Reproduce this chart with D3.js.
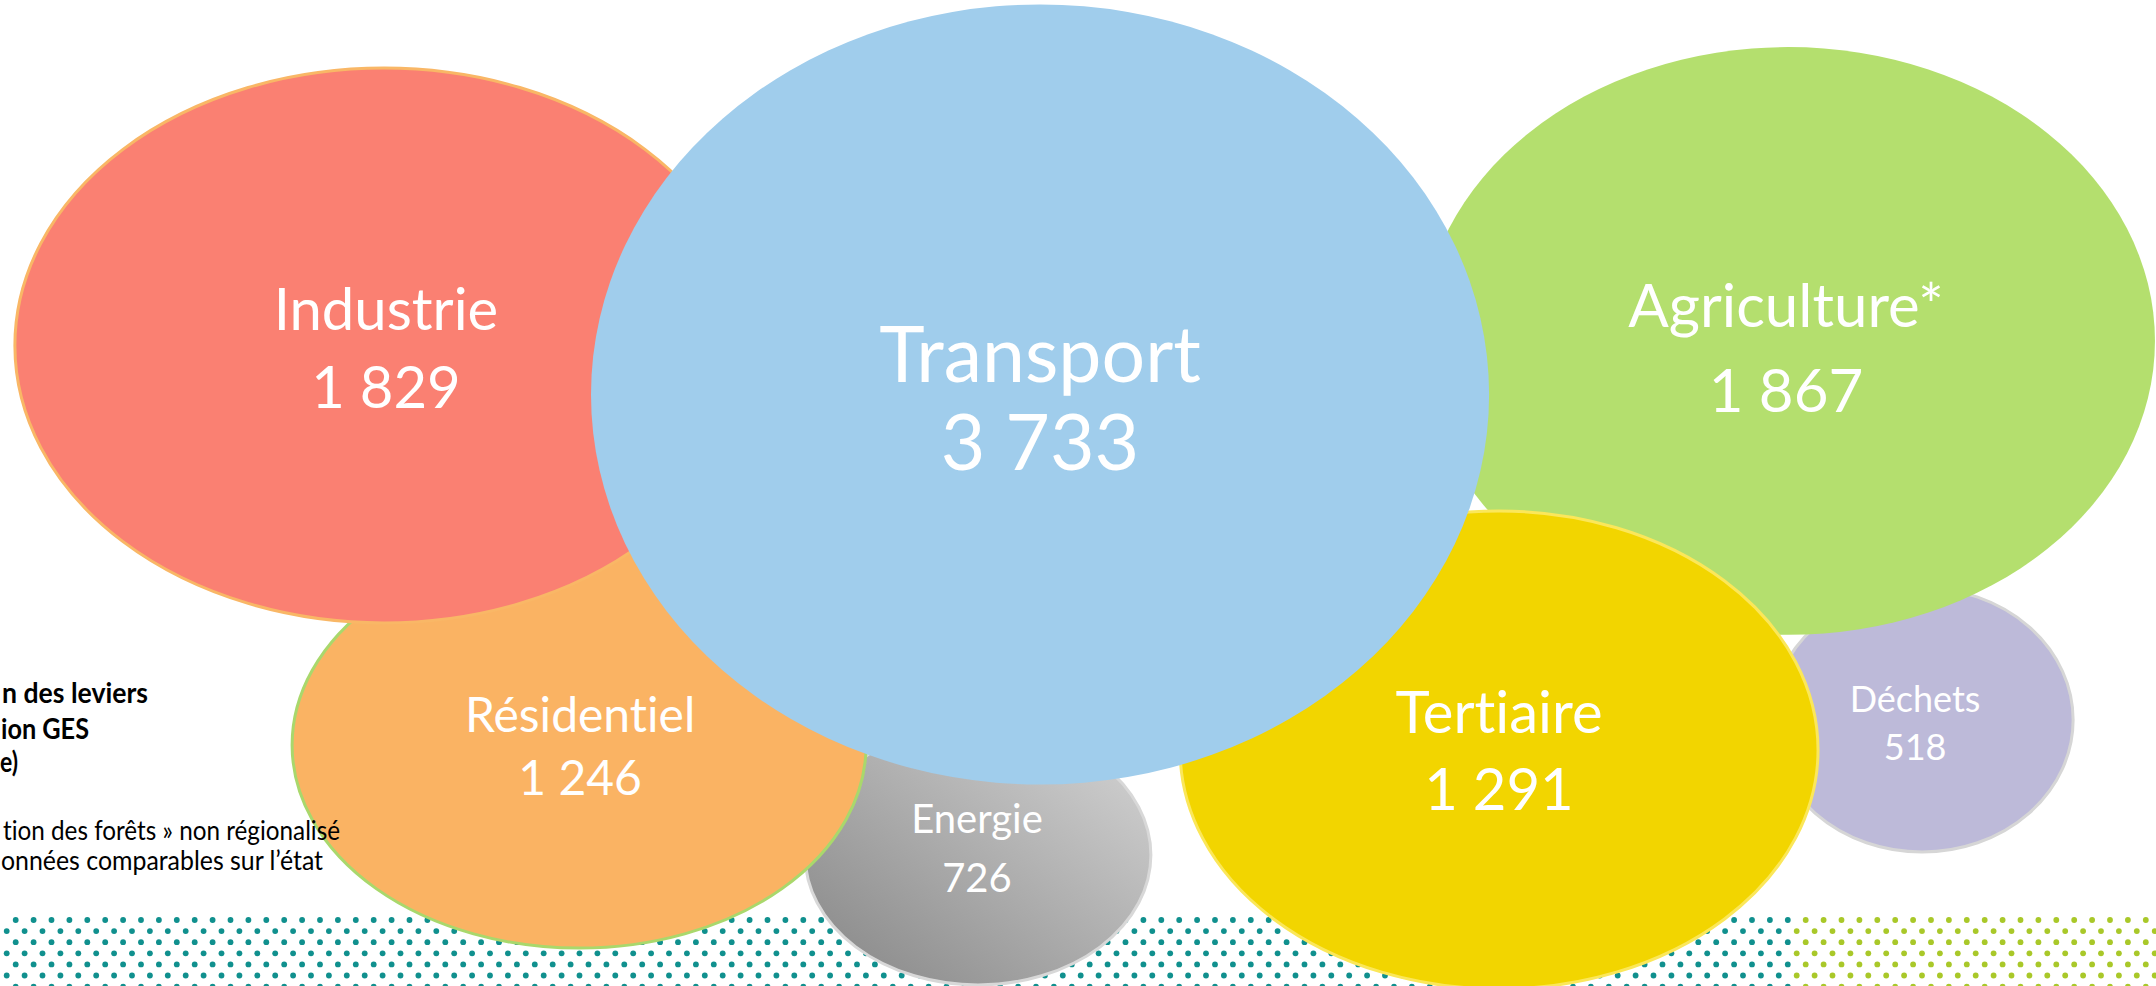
<!DOCTYPE html>
<html><head><meta charset="utf-8">
<script src="https://cdn.jsdelivr.net/npm/d3@7"></script>
<style>html,body{margin:0;padding:0;background:#fff;overflow:hidden}
text{font-variant-ligatures:none;font-feature-settings:"liga" 0,"clig" 0}</style>
</head><body>
<svg id="chart" width="2156" height="986"></svg>
<script>
// ---- data ----
const categories = ["Industrie", "Transport", "Agriculture*", "Résidentiel", "Energie", "Tertiaire", "Déchets"];
const values = [1829, 3733, 1867, 1246, 726, 1291, 518];
const noteBold = ["n des leviers", "ion GES", "e)"];
const noteText = ["tion des forêts » non régionalisé", "onnées comparables sur l’état"];

// ---- layout (slide percent units) ----
const centerX = [17.81, 48.24, 82.93, 26.86, 45.36, 69.53, 89.15];
const centerY = [35.04, 40.01, 34.58, 75.56, 86.71, 76.06, 73.02];
const shapeX = [1.260, 1.073, 1.240, 1.187, 0.937, 1.296, 0.969];
const shapeY = [0.947, 0.932, 0.993, 0.840, 0.704, 0.971, 0.847];
const drawOrder = [6, 2, 5, 4, 3, 0, 1];
const fills = ["#fa8072", "#a0cdec", "#b4df6e", "#fab363", "url(#gradEnergie)", "#f2d500", "#bdbad9"];
const strokes = ["#f9b766", "none", "none", "#a9d86c", "#d8d8d8", "#fbe75a", "#d6d6d6"];
const labelSize = [58, 77, 60, 48, 40, 58, 36];
const nameDy = [-15.5, -12.5, -14, -13, -22, -17, -8];
const valueDy = [62.5, 75.5, 71, 50, 37, 60, 40];
const labelDx = [2, 0, -2, 1, -1, 0, -7];

const W = 2156, H = 986;
const svg = d3.select("#chart");
const x = d3.scaleLinear().domain([0, 100]).range([0, W]);
const y = d3.scaleLinear().domain([0, 100]).range([0, H]);
const r = d3.scaleSqrt().domain([0, d3.max(values)]).range([0, 418.5]);
const fmt = d3.formatLocale({decimal: ",", thousands: " ", grouping: [3], currency: ["", " €"]}).format(",d");

const defs = svg.append("defs");
const g = defs.append("linearGradient").attr("id", "gradEnergie")
  .attr("x1", 0).attr("y1", 1).attr("x2", 1).attr("y2", 0);
g.append("stop").attr("offset", "0%").attr("stop-color", "#858585");
g.append("stop").attr("offset", "100%").attr("stop-color", "#d6d6d6");

// ---- dotted band ----
const dots = [];
for (let row = 0; row < 7; row++) {
  const yy = 920 + row * 11.1;
  const x0 = row % 2 === 0 ? 15.7 : 6.7;
  for (let xx = x0; xx < W + 5; xx += 17.9) dots.push([xx, yy]);
}
svg.append("g").selectAll("circle").data(dots).join("circle")
  .attr("cx", d => d[0]).attr("cy", d => d[1]).attr("r", 2.9)
  .attr("fill", d => d[0] < 1792 ? "#10908e" : "#a9c829");

// ---- bubbles ----
const bubbles = drawOrder.map(i => ({i, name: categories[i], value: values[i]}));
svg.append("g").selectAll("ellipse").data(bubbles).join("ellipse")
  .attr("cx", d => x(centerX[d.i])).attr("cy", d => y(centerY[d.i]))
  .attr("rx", d => r(d.value) * shapeX[d.i]).attr("ry", d => r(d.value) * shapeY[d.i])
  .attr("fill", d => fills[d.i])
  .attr("stroke", d => strokes[d.i]).attr("stroke-width", 3);

// ---- labels ----
const lab = svg.append("g").attr("font-family", "Lato, 'Open Sans', sans-serif")
  .attr("fill", "#fff").attr("text-anchor", "middle");
lab.selectAll("text.name").data(bubbles).join("text").attr("class", "name")
  .attr("x", d => x(centerX[d.i]) + labelDx[d.i]).attr("y", d => y(centerY[d.i]) + nameDy[d.i])
  .attr("font-size", d => labelSize[d.i]).text(d => d.name);
lab.selectAll("text.val").data(bubbles).join("text").attr("class", "val")
  .attr("x", d => x(centerX[d.i]) + labelDx[d.i]).attr("y", d => y(centerY[d.i]) + valueDy[d.i])
  .attr("font-size", d => labelSize[d.i]).text(d => fmt(d.value));

// ---- note text (cut by left edge, drawn on top) ----
const noteG = svg.append("g").attr("font-family", "Lato, 'Open Sans', sans-serif").attr("fill", "#000");
const boldBase = [703, 739, 772], boldEnd = [148, 89, 18], boldStart = [2, 1, 0];
noteG.selectAll("text.b").data(noteBold).join("text").attr("class", "b")
  .attr("x", (d, i) => boldStart[i]).attr("y", (d, i) => boldBase[i])
  .attr("font-size", 29).attr("font-weight", 700)
  .attr("textLength", (d, i) => boldEnd[i] - boldStart[i]).attr("lengthAdjust", "spacingAndGlyphs")
  .text(d => d);
const txtBase = [840, 870], txtEnd = [340, 323], txtStart = [3, 1];
noteG.selectAll("text.n").data(noteText).join("text").attr("class", "n")
  .attr("x", (d, i) => txtStart[i]).attr("y", (d, i) => txtBase[i])
  .attr("font-size", 26)
  .attr("textLength", (d, i) => txtEnd[i] - txtStart[i]).attr("lengthAdjust", "spacingAndGlyphs")
  .text(d => d);
</script>
</body></html>
